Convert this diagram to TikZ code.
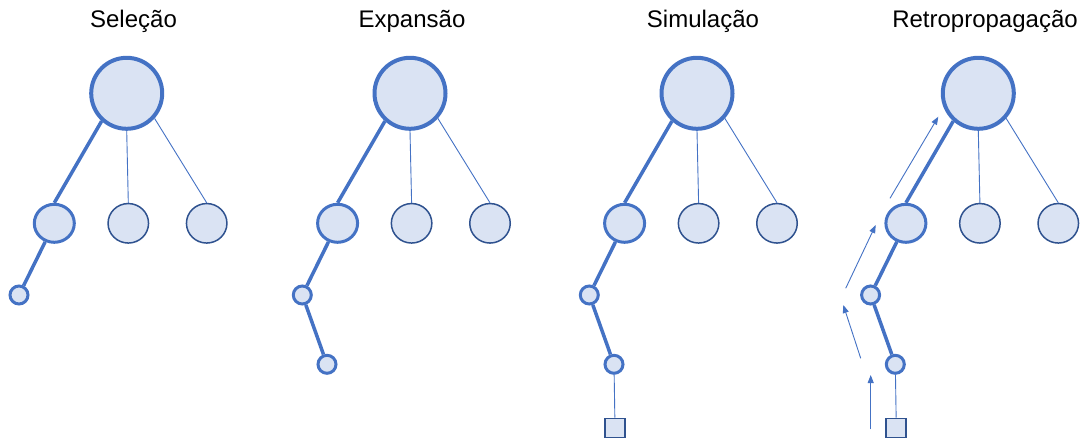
\documentclass[tikz,border=0pt]{standalone}
\usepackage{fontspec}
\setmainfont{Liberation Sans}
\usetikzlibrary{arrows.meta,shapes.geometric,calc}
\definecolor{nodefill}{HTML}{DAE3F3}
\definecolor{accent}{HTML}{4472C4}
\definecolor{deep}{HTML}{2F528F}
\tikzset{
  rootnode/.style={circle, draw=accent, fill=nodefill, line width=4pt, minimum size=71pt, inner sep=0pt},
  picknode/.style={ellipse, draw=accent, fill=nodefill, line width=3pt, minimum width=40pt, minimum height=38pt, inner sep=0pt},
  restnode/.style={ellipse, draw=deep, fill=nodefill, line width=1.5pt, minimum width=40.5pt, minimum height=39.5pt, inner sep=0pt},
  leafnode/.style={circle, draw=accent, fill=nodefill, line width=3pt, minimum size=18pt, inner sep=0pt},
  endbox/.style={rectangle, draw=deep, fill=nodefill, line width=1.8pt, minimum width=20pt, minimum height=19pt, inner sep=0pt},
  pathedge/.style={draw=accent, line width=3.5pt},
  sideedge/.style={draw=accent, line width=0.9pt},
  backarrow/.style={draw=accent, line width=0.9pt, -{Triangle[length=8pt,width=6pt]}},
  title/.style={font=\fontsize{24}{28}\selectfont, anchor=base}
}
\begin{document}
\begin{tikzpicture}[x=1pt,y=-1pt]
\useasboundingbox (0,0) rectangle (1086,441);

% panel titles
\node[title] (t1) at (133.5,27.7) {Seleção};
\node[title] (t2) at (412,27.7) {Expansão};
\node[title] (t3) at (703,27.7) {Simulação};
\node[title] (t4) at (985,27.7) {Retropropagação};

% tree of each panel: root, three children, then the walked path
\foreach \k/\x in {1/126.7, 2/410, 3/697, 4/978.3} {
  \node[rootnode] (r\k) at (\x,93.3) {};
  \node[picknode] (a\k) at ($(\x,0)+(-72.4,223.3)$) {};
  \node[restnode] (b\k) at ($(\x,0)+(1.6,223.3)$) {};
  \node[restnode] (c\k) at ($(\x,0)+(80,223.3)$) {};
  \path[pathedge] (r\k.-132) -- (a\k.north);
  \path[sideedge] (r\k.south) -- (b\k.north);
  \path[sideedge] (r\k.-42) -- (c\k.north);
  \node[leafnode] (s\k) at ($(\x,0)+(-107.7,295)$) {};
  \path[pathedge] (a\k) -- (s\k);
}

% expanded and simulated leaves
\foreach \k/\x in {2/410, 3/697, 4/978.3} {
  \node[leafnode] (u\k) at ($(\x,0)+(-83,364.3)$) {};
  \path[pathedge] (s\k) -- (u\k);
}
\foreach \k/\x in {3/697, 4/978.3} {
  \node[endbox] (q\k) at ($(\x,0)+(-82,428)$) {};
  \path[sideedge] (u\k) -- (q\k);
}

% backpropagation arrows
\coordinate (p1) at (870.7,429.3);
\coordinate (p2) at (870.7,375);
\coordinate (p3) at (860.7,358.3);
\coordinate (p4) at (843.3,305);
\coordinate (p5) at (845.7,288.3);
\coordinate (p6) at (875.7,225);
\coordinate (p7) at (890,198.3);
\coordinate (p8) at (938.3,116.7);
\path[backarrow] (p1) -- (p2);
\path[backarrow] (p3) -- (p4);
\path[backarrow] (p5) -- (p6);
\path[backarrow] (p7) -- (p8);
\end{tikzpicture}
\end{document}
